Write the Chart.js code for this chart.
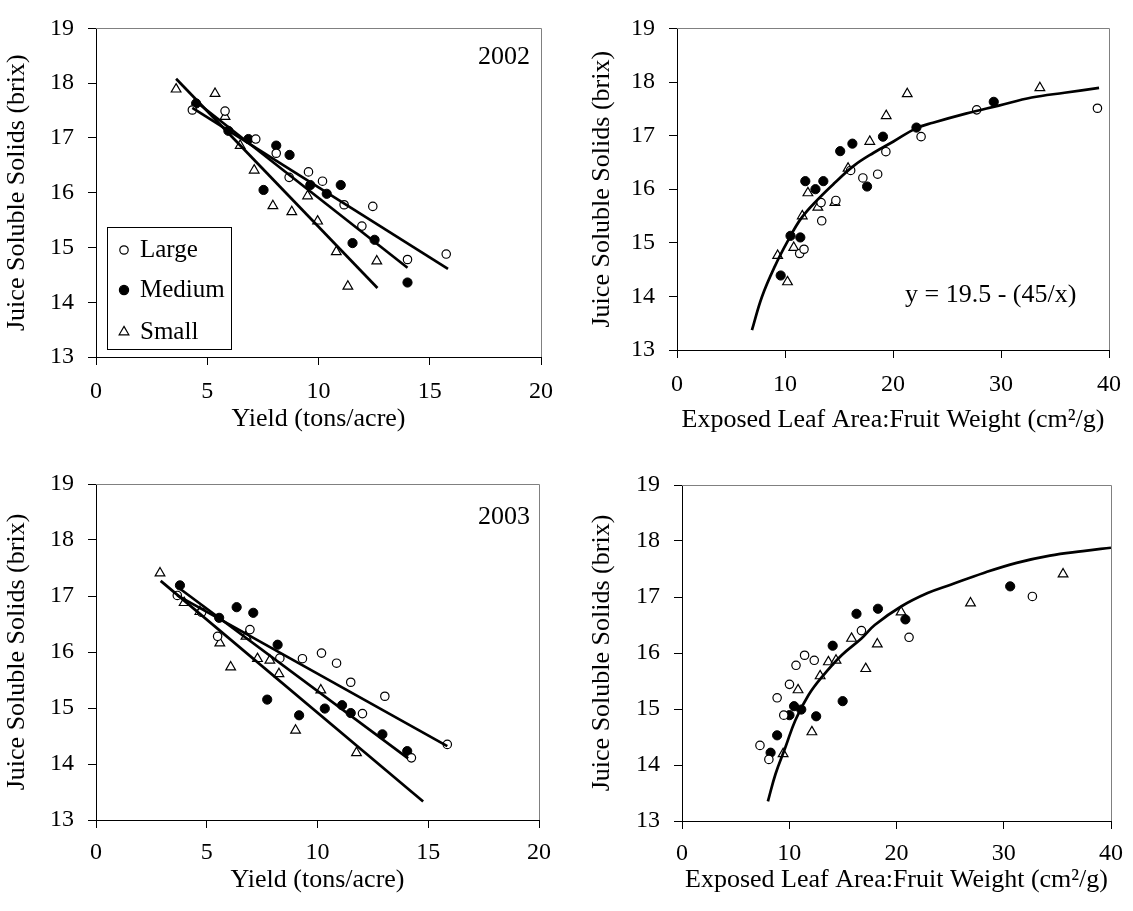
<!DOCTYPE html>
<html>
<head>
<meta charset="utf-8">
<script src="https://cdn.jsdelivr.net/npm/chart.js@4.4.0/dist/chart.umd.min.js"></script>
<style>
body { margin:0; background:#fff; }
#wrap { position:relative; width:1133px; height:911px; background:#fff; }
canvas { position:absolute; }
</style>
</head>
<body>
<div id="wrap">
  <canvas id="c1" width="566" height="455" style="left:0;top:0"></canvas>
  <canvas id="c2" width="567" height="455" style="left:566px;top:0"></canvas>
  <canvas id="c3" width="566" height="456" style="left:0;top:455px"></canvas>
  <canvas id="c4" width="567" height="456" style="left:566px;top:455px"></canvas>
</div>
<script>
// ---- data ----
// 2002, brix vs yield
var y02LargeX  = [4.33, 5.80, 7.18, 8.10, 8.68, 9.55, 10.18, 11.15, 12.44, 11.95, 14.0, 15.74];
var y02LargeY  = [17.51, 17.49, 16.98, 16.72, 16.28, 16.38, 16.21, 15.78, 15.75, 15.39, 14.78, 14.88];
var y02MedX    = [4.50, 5.95, 6.85, 8.10, 8.70, 7.53, 9.63, 10.37, 11.0, 11.53, 12.52, 14.0];
var y02MedY    = [17.63, 17.13, 16.98, 16.86, 16.69, 16.05, 16.14, 15.98, 16.14, 15.08, 15.14, 14.36];
var y02SmallX  = [3.60, 5.35, 5.80, 6.48, 7.11, 7.95, 8.80, 9.51, 9.96, 10.8, 12.62, 11.32];
var y02SmallY  = [17.89, 17.81, 17.39, 16.86, 16.41, 15.76, 15.65, 15.94, 15.48, 14.92, 14.75, 14.29];
var y02LineLX = [4.33, 15.82], y02LineLY = [17.55, 14.61];
var y02LineMX = [4.50, 14.0],  y02LineMY = [17.66, 14.63];
var y02LineSX = [3.60, 12.65], y02LineSY = [18.08, 14.26];

// 2002, brix vs exposed leaf area : fruit weight
var e02LargeX = [11.36, 11.76, 13.40, 13.34, 14.71, 16.08, 17.21, 18.58, 19.34, 22.6, 27.75, 38.93];
var e02LargeY = [14.80, 14.88, 15.41, 15.75, 15.79, 16.35, 16.21, 16.28, 16.70, 16.98, 17.48, 17.51];
var e02MedX   = [9.6, 10.51, 11.42, 11.88, 12.82, 13.55, 15.11, 16.24, 17.6, 19.07, 22.17, 29.33];
var e02MedY   = [14.39, 15.13, 15.10, 16.15, 16.0, 16.15, 16.71, 16.85, 16.05, 16.98, 17.15, 17.63];
var e02SmallX = [9.32, 10.23, 10.81, 11.6, 12.12, 13.04, 14.62, 15.84, 17.85, 19.37, 21.32, 33.6];
var e02SmallY = [14.76, 14.27, 14.91, 15.50, 15.93, 15.66, 15.75, 16.39, 16.89, 17.37, 17.78, 17.89];
var e02CurveX = [6.94, 7.86, 9.08, 10.3, 11.51, 13.04, 14.56, 16.39, 18.21, 20.04, 22.17, 23.7, 26.74, 29.79, 32.84, 35.88, 39.08];
var e02CurveY = [13.37, 13.99, 14.57, 15.05, 15.46, 15.81, 16.11, 16.44, 16.68, 16.89, 17.14, 17.24, 17.41, 17.56, 17.71, 17.80, 17.89];

// 2003, brix vs yield
var y03LargeX = [3.67, 4.77, 5.49, 6.95, 8.30, 9.32, 10.18, 10.86, 11.50, 12.03, 13.04, 14.24, 15.86];
var y03LargeY = [17.01, 16.71, 16.28, 16.40, 15.89, 15.88, 15.98, 15.80, 15.46, 14.90, 15.21, 14.11, 14.35];
var y03MedX   = [3.79, 5.56, 6.35, 7.1, 8.2, 7.73, 9.17, 10.33, 11.11, 11.5, 12.93, 14.05];
var y03MedY   = [17.19, 16.61, 16.80, 16.70, 16.13, 15.15, 14.87, 14.99, 15.05, 14.91, 14.53, 14.23];
var y03SmallX = [2.89, 3.98, 4.69, 5.59, 6.08, 6.77, 7.29, 7.85, 8.26, 9.01, 10.15, 11.76];
var y03SmallY = [17.41, 16.88, 16.72, 16.16, 15.73, 16.28, 15.88, 15.85, 15.61, 14.60, 15.32, 14.20];
var y03LineLX = [3.67, 15.86], y03LineLY = [17.01, 14.32];
var y03LineMX = [3.79, 14.09], y03LineMY = [17.13, 14.10];
var y03LineSX = [2.92, 14.77], y03LineSY = [17.27, 13.33];

// 2003, brix vs exposed leaf area : fruit weight
var e03LargeX = [7.27, 8.10, 8.87, 9.49, 10.02, 10.63, 11.43, 12.33, 16.73, 21.17, 32.67];
var e03LargeY = [14.35, 14.10, 15.20, 14.89, 15.44, 15.78, 15.96, 15.87, 16.40, 16.28, 17.01];
var e03MedX   = [8.26, 8.87, 10.02, 10.45, 11.12, 12.51, 14.05, 14.98, 16.27, 18.27, 20.83, 30.6];
var e03MedY   = [14.22, 14.53, 14.89, 15.05, 14.99, 14.87, 16.13, 15.14, 16.70, 16.79, 16.60, 17.19];
var e03SmallX = [9.43, 10.82, 12.11, 12.88, 13.65, 14.36, 15.81, 17.13, 18.21, 20.43, 26.9, 35.53];
var e03SmallY = [14.20, 15.34, 14.59, 15.59, 15.84, 15.87, 16.26, 15.72, 16.16, 16.73, 16.89, 17.41];
var e03CurveX = [8.01, 8.72, 9.65, 10.57, 11.8, 13.04, 14.88, 16.73, 17.97, 20.43, 22.9, 25.05, 28.13, 31.2, 34.3, 37.38, 40.0];
var e03CurveY = [13.35, 13.84, 14.32, 14.80, 15.25, 15.57, 15.96, 16.26, 16.50, 16.83, 17.07, 17.22, 17.43, 17.61, 17.74, 17.82, 17.88];

var yTicksMin = 13, yTicksMax = 19;
var yTitle = 'Juice Soluble Solids (brix)';
var xTitleYield = 'Yield (tons/acre)';
var xTitleLeaf = 'Exposed Leaf Area:Fruit Weight (cm\u00B2/g)';
var seriesNames = ['Large', 'Medium', 'Small'];

var FONT = 'Liberation Serif, Times New Roman, serif';

function pts(xs, ys) {
  return xs.map(function(x, i) { return {x: x, y: ys[i]}; });
}

var styleLarge = {pointStyle: 'circle', pointRadius: 4.2, pointBackgroundColor: '#fff', pointBorderColor: '#000', pointBorderWidth: 1.2};
var styleMed   = {pointStyle: 'circle', pointRadius: 4.6, pointBackgroundColor: '#000', pointBorderColor: '#000', pointBorderWidth: 1};
var styleSmall = {pointStyle: 'triangle', pointRadius: 5.6, pointBackgroundColor: '#fff', pointBorderColor: '#000', pointBorderWidth: 1.2};

function scatterSet(label, xs, ys, st) {
  return Object.assign({label: label, data: pts(xs, ys), showLine: false, order: 1}, st);
}
function lineSet(xs, ys, tension) {
  return {label: 'fit', data: pts(xs, ys), showLine: true, pointRadius: 0, borderColor: '#000',
    borderWidth: 2.7, tension: tension || 0, fill: false, order: 0};
}

// frame on top / right side, grey like the original
var framePlugin = {
  id: 'frame',
  afterDraw: function(chart) {
    var a = chart.chartArea, ctx = chart.ctx;
    ctx.save();
    ctx.strokeStyle = '#808080';
    ctx.lineWidth = 1;
    ctx.beginPath();
    ctx.moveTo(a.left, Math.round(a.top) + 0.5);
    ctx.lineTo(a.right + 0.5, Math.round(a.top) + 0.5);
    ctx.lineTo(Math.round(a.right) + 0.5, a.bottom);
    ctx.stroke();
    ctx.restore();
  }
};

// free text inside the plot (year, equation)
var notesPlugin = {
  id: 'notes',
  afterDraw: function(chart, args, opts) {
    if (!opts.items) return;
    var ctx = chart.ctx, a = chart.chartArea;
    ctx.save();
    ctx.fillStyle = '#000';
    ctx.font = '26px ' + FONT;
    ctx.textBaseline = 'middle';
    opts.items.forEach(function(n) {
      ctx.textAlign = n.align;
      var x = n.fromRight ? a.right - n.dx : a.left + n.dx;
      ctx.fillText(n.text, x, a.top + n.dy);
    });
    ctx.restore();
  }
};

// boxed legend inside the first panel
var boxLegendPlugin = {
  id: 'boxLegend',
  afterDraw: function(chart, args, opts) {
    if (!opts.show) return;
    var ctx = chart.ctx;
    ctx.save();
    ctx.strokeStyle = '#000';
    ctx.lineWidth = 1;
    ctx.strokeRect(107.5, 227.5, 124, 122);
    var rows = [250, 290, 332];
    ctx.font = '25px ' + FONT;
    ctx.textBaseline = 'middle';
    ctx.textAlign = 'left';
    rows.forEach(function(y, i) {
      var mx = 124;
      ctx.beginPath();
      if (i === 2) {
        var r = 5.6;
        ctx.moveTo(mx, y - r);
        ctx.lineTo(mx + r * 0.866, y + r / 2);
        ctx.lineTo(mx - r * 0.866, y + r / 2);
        ctx.closePath();
      } else {
        ctx.arc(mx, y, i === 1 ? 4.6 : 4.2, 0, Math.PI * 2);
      }
      ctx.fillStyle = i === 1 ? '#000' : '#fff';
      ctx.fill();
      ctx.lineWidth = 1.2;
      ctx.stroke();
      ctx.fillStyle = '#000';
      ctx.fillText(seriesNames[i], 140, y);
    });
    ctx.restore();
  }
};

function makeChart(id, c) {
  var w = c.w, h = c.h, area = c.area;
  return new Chart(document.getElementById(id), {
    type: 'scatter',
    data: {datasets: c.datasets},
    plugins: [framePlugin, notesPlugin, boxLegendPlugin],
    options: {
      responsive: false,
      animation: false,
      devicePixelRatio: 1,
      layout: {padding: {left: 0, top: area.t, right: w - area.r, bottom: 0}},
      plugins: {
        legend: {display: false},
        tooltip: {enabled: false},
        notes: {items: c.notes || null},
        boxLegend: {show: !!c.legend}
      },
      scales: {
        x: {
          type: 'linear', min: 0, max: c.xMax,
          ticks: {stepSize: c.xStep, color: '#000', font: {family: FONT, size: 24}, padding: c.xTickPad, maxRotation: 0},
          grid: {drawOnChartArea: false, drawTicks: true, tickLength: 8, color: '#000'},
          border: {display: true, color: '#000', width: 1},
          title: {display: true, text: c.xTitle, color: '#000', font: {family: FONT, size: 26}, padding: {top: 0, bottom: c.xTitlePad}},
          afterFit: function(s) { s.height = h - area.b; }
        },
        y: {
          type: 'linear', min: yTicksMin, max: yTicksMax,
          ticks: {stepSize: 1, color: '#000', font: {family: FONT, size: 24}, padding: 14},
          grid: {drawOnChartArea: false, drawTicks: true, tickLength: 8, color: '#000'},
          border: {display: true, color: '#000', width: 1},
          title: {display: true, text: yTitle, color: '#000', font: {family: FONT, size: 26}, padding: {top: c.yTitlePad, bottom: 0}},
          afterFit: function(s) { s.width = area.l; }
        }
      }
    }
  });
}

makeChart('c1', {
  w: 566, h: 455, area: {l: 96, t: 16, r: 541, b: 357},
  xMax: 20, xStep: 5, xTitle: xTitleYield, xTickPad: 12, xTitlePad: 20, yTitlePad: 2, legend: true,
  notes: [{text: '2002', align: 'right', fromRight: true, dx: 11, dy: 29}],
  datasets: [
    scatterSet(seriesNames[0], y02LargeX, y02LargeY, styleLarge),
    scatterSet(seriesNames[1], y02MedX, y02MedY, styleMed),
    scatterSet(seriesNames[2], y02SmallX, y02SmallY, styleSmall),
    lineSet(y02LineLX, y02LineLY),
    lineSet(y02LineMX, y02LineMY),
    lineSet(y02LineSX, y02LineSY)
  ]
});

makeChart('c2', {
  w: 567, h: 455, area: {l: 111, t: 18, r: 549, b: 350},
  xMax: 40, xStep: 10, xTitle: xTitleLeaf, xTickPad: 12, xTitlePad: 19, yTitlePad: 21,
  notes: [{text: 'y = 19.5 - (45/x)', align: 'left', fromRight: false, dx: 228, dy: 267}],
  datasets: [
    scatterSet(seriesNames[0], e02LargeX, e02LargeY, styleLarge),
    scatterSet(seriesNames[1], e02MedX, e02MedY, styleMed),
    scatterSet(seriesNames[2], e02SmallX, e02SmallY, styleSmall),
    lineSet(e02CurveX, e02CurveY, 0.4)
  ]
});

makeChart('c3', {
  w: 566, h: 456, area: {l: 96, t: 29, r: 539, b: 365},
  xMax: 20, xStep: 5, xTitle: xTitleYield, xTickPad: 10, xTitlePad: 15, yTitlePad: 2,
  notes: [{text: '2003', align: 'right', fromRight: true, dx: 9, dy: 33}],
  datasets: [
    scatterSet(seriesNames[0], y03LargeX, y03LargeY, styleLarge),
    scatterSet(seriesNames[1], y03MedX, y03MedY, styleMed),
    scatterSet(seriesNames[2], y03SmallX, y03SmallY, styleSmall),
    lineSet(y03LineLX, y03LineLY),
    lineSet(y03LineMX, y03LineMY),
    lineSet(y03LineSX, y03LineSY)
  ]
});

makeChart('c4', {
  w: 567, h: 456, area: {l: 116, t: 30, r: 549, b: 366},
  xMax: 40, xStep: 10, xTitle: xTitleLeaf, xTickPad: 10, xTitlePad: 15, yTitlePad: 21,
  datasets: [
    scatterSet(seriesNames[0], e03LargeX, e03LargeY, styleLarge),
    scatterSet(seriesNames[1], e03MedX, e03MedY, styleMed),
    scatterSet(seriesNames[2], e03SmallX, e03SmallY, styleSmall),
    lineSet(e03CurveX, e03CurveY, 0.4)
  ]
});
</script>
</body>
</html>
